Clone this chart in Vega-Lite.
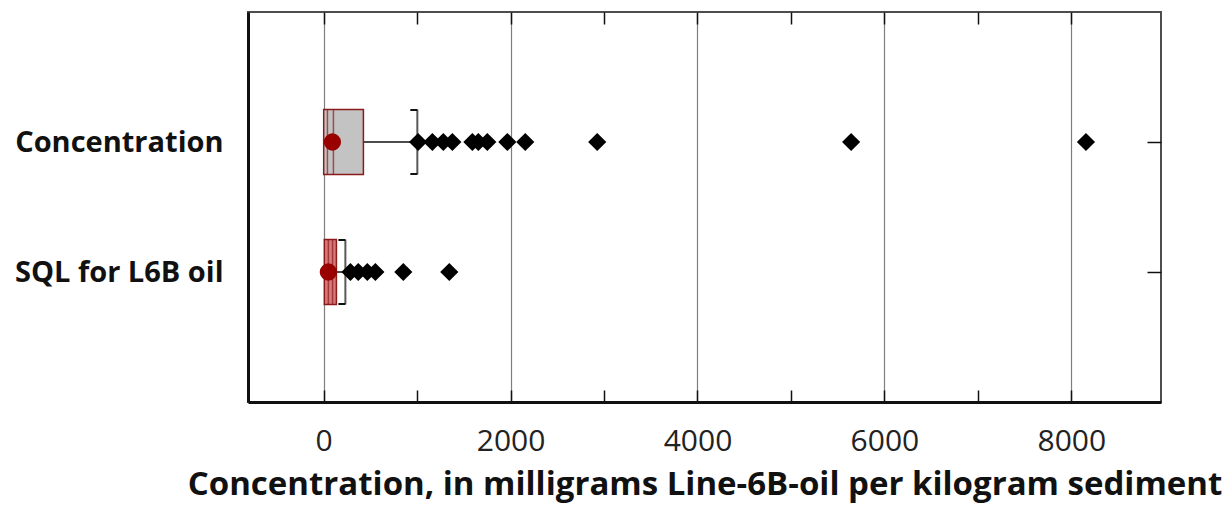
{
  "$schema": "https://vega.github.io/schema/vega-lite/v6.json",
  "width": 913,
  "height": 390,
  "autosize": "none",
  "padding": {"left": 248, "top": 12, "right": 69, "bottom": 103},
  "background": "white",
  "config": {
    "view": {"stroke": "#4d4d4d", "strokeWidth": 2},
    "axis": {"labelFont": "Open Sans", "titleFont": "Open Sans"}
  },
  "datasets": {
    "boxes": [
      {"cat": "Concentration", "q1": 0, "p1": 40, "med": 104, "q3": 425, "whi": 1002, "mean": 93},
      {"cat": "SQL for L6B oil", "q1": 7, "p1": 50, "med": 95, "q3": 136, "whi": 232, "mean": 50}
    ],
    "outliers": [
      {"cat": "Concentration", "value": 1010},
      {"cat": "Concentration", "value": 1163},
      {"cat": "Concentration", "value": 1280},
      {"cat": "Concentration", "value": 1377},
      {"cat": "Concentration", "value": 1591},
      {"cat": "Concentration", "value": 1655},
      {"cat": "Concentration", "value": 1751},
      {"cat": "Concentration", "value": 1965},
      {"cat": "Concentration", "value": 2157},
      {"cat": "Concentration", "value": 2927},
      {"cat": "Concentration", "value": 5644},
      {"cat": "Concentration", "value": 8157},
      {"cat": "SQL for L6B oil", "value": 286},
      {"cat": "SQL for L6B oil", "value": 370},
      {"cat": "SQL for L6B oil", "value": 467},
      {"cat": "SQL for L6B oil", "value": 553},
      {"cat": "SQL for L6B oil", "value": 852},
      {"cat": "SQL for L6B oil", "value": 1344}
    ]
  },
  "resolve": {"axis": {"x": "independent", "y": "independent"}},
  "layer": [
    {
      "data": {"name": "boxes"},
      "mark": {"type": "rule", "color": "#111", "strokeWidth": 1.5},
      "encoding": {
        "x": {"field": "q3", "type": "quantitative", "scale": {"domain": [-810, 8960], "nice": false, "zero": false},
          "axis": {
            "orient": "bottom",
            "values": [0, 1000, 2000, 3000, 4000, 5000, 6000, 7000, 8000],
            "format": "d",
            "labelExpr": "datum.value % 2000 === 0 ? datum.label : ''",
            "grid": true,
            "gridColor": "#7f7f7f",
            "gridWidth": 1.2,
            "gridOpacity": {"condition": {"test": "datum.value % 2000 === 0", "value": 1}, "value": 0},
            "tickSize": -12,
            "tickColor": "#111",
            "tickWidth": 1.5,
            "domainColor": "#111",
            "domainWidth": 3,
            "labelFontSize": 30,
            "labelColor": "#222",
            "labelPadding": 36,
            "labelFlush": false,
            "labelOverlap": false,
            "title": "Concentration, in milligrams Line-6B-oil per kilogram sediment",
            "titleFontSize": 33,
            "titleFontWeight": "bold",
            "titleColor": "#111",
            "titlePadding": 12
          }
        },
        "x2": {"field": "whi"},
        "y": {"field": "cat", "type": "nominal", "scale": {"type": "point", "domain": ["Concentration", "SQL for L6B oil"], "padding": 1},
          "axis": {
            "orient": "left",
            "title": null,
            "ticks": false,
            "domainColor": "#111",
            "domainWidth": 3,
            "labelFontSize": 29,
            "labelFontWeight": "bold",
            "labelColor": "#111",
            "labelPadding": 25,
            "labelLimit": 400
          }
        }
      }
    },
    {
      "data": {"name": "boxes"},
      "mark": {"type": "bar", "height": 65, "stroke": "#8b1a1a", "strokeWidth": 1.5},
      "encoding": {
        "x": {"field": "q1", "type": "quantitative", "scale": {"domain": [-810, 8960], "nice": false, "zero": false},
          "axis": {
            "orient": "top",
            "values": [0, 1000, 2000, 3000, 4000, 5000, 6000, 7000, 8000],
            "labels": false,
            "grid": false,
            "domain": false,
            "tickSize": -12,
            "tickColor": "#111",
            "tickWidth": 1.5,
            "title": null
          }
        },
        "x2": {"field": "q3"},
        "y": {"field": "cat", "type": "nominal", "scale": {"type": "point", "domain": ["Concentration", "SQL for L6B oil"], "padding": 1},
          "axis": {
            "orient": "right",
            "title": null,
            "labels": false,
            "domain": false,
            "tickSize": -14,
            "tickColor": "#111",
            "tickWidth": 1.5
          }
        },
        "fill": {"field": "cat", "type": "nominal", "scale": {"domain": ["Concentration", "SQL for L6B oil"], "range": ["#c3c3c3", "#d97a7a"]}, "legend": null}
      }
    },
    {
      "data": {"name": "boxes"},
      "mark": {"type": "tick", "size": 65, "thickness": 1.5, "color": "#8b1a1a"},
      "encoding": {
        "x": {"field": "p1", "type": "quantitative", "scale": {"domain": [-810, 8960], "nice": false, "zero": false}, "axis": null},
        "y": {"field": "cat", "type": "nominal", "scale": {"type": "point", "domain": ["Concentration", "SQL for L6B oil"], "padding": 1}, "axis": null}
      }
    },
    {
      "data": {"name": "boxes"},
      "mark": {"type": "tick", "size": 65, "thickness": 1.5, "color": "#8b1a1a"},
      "encoding": {
        "x": {"field": "med", "type": "quantitative", "scale": {"domain": [-810, 8960], "nice": false, "zero": false}, "axis": null},
        "y": {"field": "cat", "type": "nominal", "scale": {"type": "point", "domain": ["Concentration", "SQL for L6B oil"], "padding": 1}, "axis": null}
      }
    },
    {
      "data": {"name": "boxes"},
      "mark": {"type": "tick", "size": 65, "thickness": 2, "color": "#111"},
      "encoding": {
        "x": {"field": "whi", "type": "quantitative", "scale": {"domain": [-810, 8960], "nice": false, "zero": false}, "axis": null},
        "y": {"field": "cat", "type": "nominal", "scale": {"type": "point", "domain": ["Concentration", "SQL for L6B oil"], "padding": 1}, "axis": null}
      }
    },
    {
      "data": {"name": "boxes"},
      "mark": {"type": "rule", "color": "#111", "strokeWidth": 2, "x2Offset": -7, "yOffset": -32},
      "encoding": {
        "x": {"field": "whi", "type": "quantitative", "scale": {"domain": [-810, 8960], "nice": false, "zero": false}, "axis": null},
        "x2": {"field": "whi"},
        "y": {"field": "cat", "type": "nominal", "scale": {"type": "point", "domain": ["Concentration", "SQL for L6B oil"], "padding": 1}, "axis": null}
      }
    },
    {
      "data": {"name": "boxes"},
      "mark": {"type": "rule", "color": "#111", "strokeWidth": 2, "x2Offset": -7, "yOffset": 32},
      "encoding": {
        "x": {"field": "whi", "type": "quantitative", "scale": {"domain": [-810, 8960], "nice": false, "zero": false}, "axis": null},
        "x2": {"field": "whi"},
        "y": {"field": "cat", "type": "nominal", "scale": {"type": "point", "domain": ["Concentration", "SQL for L6B oil"], "padding": 1}, "axis": null}
      }
    },
    {
      "data": {"name": "outliers"},
      "mark": {"type": "point", "shape": "diamond", "filled": true, "color": "#000", "size": 330, "opacity": 1},
      "encoding": {
        "x": {"field": "value", "type": "quantitative", "scale": {"domain": [-810, 8960], "nice": false, "zero": false}, "axis": null},
        "y": {"field": "cat", "type": "nominal", "scale": {"type": "point", "domain": ["Concentration", "SQL for L6B oil"], "padding": 1}, "axis": null}
      }
    },
    {
      "data": {"name": "boxes"},
      "mark": {"type": "circle", "color": "#990000", "size": 300, "opacity": 1},
      "encoding": {
        "x": {"field": "mean", "type": "quantitative", "scale": {"domain": [-810, 8960], "nice": false, "zero": false}, "axis": null},
        "y": {"field": "cat", "type": "nominal", "scale": {"type": "point", "domain": ["Concentration", "SQL for L6B oil"], "padding": 1}, "axis": null}
      }
    }
  ]
}
